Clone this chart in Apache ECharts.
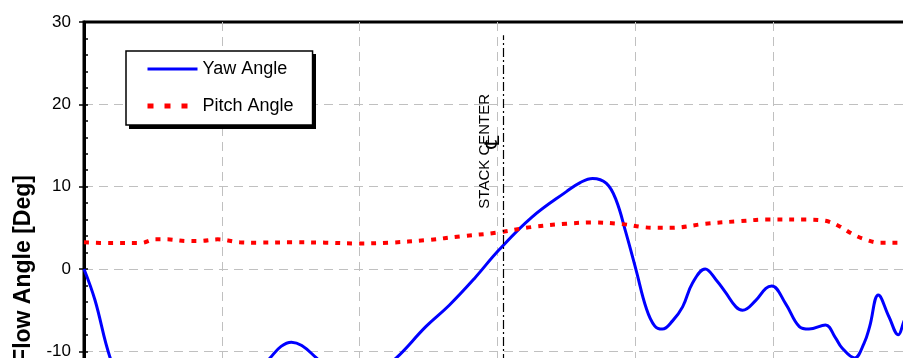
<!DOCTYPE html>
<html>
<head>
<meta charset="utf-8">
<script src="https://cdn.jsdelivr.net/npm/echarts@6/dist/echarts.min.js"></script>
<style>
  html, body { margin: 0; padding: 0; overflow: hidden; background: #fff; }
  #chart { width: 960px; height: 560px; }
</style>
</head>
<body>
<div id="chart"></div>
<script>
// Traverse position (grid units) and flow angles in degrees
const YAW_X = [0.00, 0.08, 0.19, 0.32, 0.50, 0.70, 0.90, 1.10, 1.25, 1.35, 1.43, 1.505, 1.58, 1.686,
  1.82, 1.97, 2.12, 2.266, 2.48, 2.65, 2.83, 3.01, 3.25, 3.50, 3.60, 3.69, 3.79, 3.86, 3.93,
  4.005, 4.08, 4.14, 4.196, 4.27, 4.343, 4.415, 4.507, 4.585, 4.657, 4.73, 4.778, 4.874,
  4.947, 4.99, 5.09, 5.19, 5.26, 5.38, 5.45, 5.50, 5.59, 5.66, 5.70, 5.763, 5.84, 5.908, 5.95, 6.00];
const YAW_V = [0.0, -3.8, -10.8, -15.8, -19.2, -20.3, -19.0, -15.8, -12.6, -10.8, -9.4, -8.9, -9.3, -10.8,
  -12.8, -13.5, -12.6, -10.8, -7.0, -4.4, -1.2, 2.3, 6.3, 9.4, 10.5, 11.0, 10.4, 8.4, 4.5,
  -0.1, -4.8, -6.9, -7.3, -6.3, -4.6, -1.7, 0.0, -1.3, -2.9, -4.6, -5.0, -3.8,
  -2.35, -2.06, -4.2, -7.0, -7.3, -6.8, -8.3, -9.6, -10.8, -9.0, -7.0, -3.15, -5.8, -8.0, -6.3, -4.5];

const PITCH_X = [0.00, 0.19, 0.41, 0.52, 0.60, 0.75, 0.84, 0.97, 1.13, 1.25, 1.52, 1.75, 1.99, 2.22,
  2.48, 2.75, 2.99, 3.25, 3.50, 3.69, 3.91, 4.05, 4.15, 4.26, 4.51, 4.75, 4.95, 5.24, 5.38, 5.48,
  5.57, 5.65, 5.77, 5.93, 6.00];
const PITCH_V = [3.24, 3.15, 3.15, 3.6, 3.6, 3.4, 3.4, 3.6, 3.25, 3.2, 3.24, 3.2, 3.1, 3.2,
  3.5, 4.0, 4.4, 5.1, 5.5, 5.65, 5.45, 5.1, 5.0, 5.0, 5.5, 5.8, 6.0, 6.0, 5.85, 5.2,
  4.3, 3.7, 3.2, 3.2, 3.2];

const SERIES_NAMES = ['Yaw Angle', 'Pitch Angle'];
const STACK_X = 3.043;        // stack centre position
const STACK_TOP = 28.4;       // where the centre line ends
const STACK_LABEL = 'STACK CENTER';
const STACK_LABEL_Y = 14.3;
const CL_SYMBOL = '\u2104';
const CL_SYMBOL_Y = 15.4;

const FONT = '"Liberation Sans", Arial, Helvetica, sans-serif';
const GRID_LINE = { color: '#c0c0c0', width: 1, type: [9, 6] };

const pairs = (xs, vs) => xs.map((x, i) => [x, vs[i]]);

const chart = echarts.init(document.getElementById('chart'), null, { renderer: 'canvas' });

const option = {
  animation: false,
  backgroundColor: '#fff',
  grid: {
    left: 84, top: 22, width: 827, height: 494,
    show: true, borderColor: '#000', borderWidth: 3,
    containLabel: false, outerBoundsMode: 'none'
  },
  legend: {
    left: 126, top: 51, orient: 'vertical',
    padding: [8, 19, 9, 19], itemGap: 17, itemWidth: 50, itemHeight: 20,
    backgroundColor: '#fff', borderColor: '#000', borderWidth: 1.5, borderRadius: 0,
    itemStyle: { opacity: 0 },
    selectedMode: false, z: 6,
    textStyle: { fontSize: 18, color: '#000', fontFamily: FONT, lineHeight: 20 },
    data: [
      { name: SERIES_NAMES[0], lineStyle: { width: 3 } },
      { name: SERIES_NAMES[1], lineStyle: { type: [6, 11], width: 5 } }
    ]
  },
  xAxis: {
    type: 'value', min: 0, max: 6, interval: 1,
    axisLine: { show: false, onZero: false },
    axisTick: { show: false },
    axisLabel: { show: false },
    splitLine: { show: true, showMinLine: false, showMaxLine: false, lineStyle: GRID_LINE }
  },
  yAxis: [
    {
      type: 'value', min: -30, max: 30, interval: 10,
      axisLine: { show: true, onZero: false, lineStyle: { color: '#000', width: 3 } },
      axisTick: { show: true, inside: false, length: 5, lineStyle: { color: '#000', width: 1.5 } },
      axisLabel: { margin: 13, color: '#000', fontSize: 17, fontFamily: FONT },
      splitLine: { show: true, showMinLine: false, showMaxLine: false, lineStyle: GRID_LINE },
      name: 'Flow Angle [Deg]', nameLocation: 'middle', nameGap: 47,
      nameTextStyle: { fontSize: 23, fontWeight: 'bold', color: '#000', fontFamily: FONT }
    },
    {
      type: 'value', min: -30, max: 30, interval: 2, position: 'left',
      axisLine: { show: false, onZero: false },
      axisTick: { show: true, inside: true, length: 4, lineStyle: { color: '#000', width: 1.5 } },
      axisLabel: { show: false },
      splitLine: { show: false }
    }
  ],
  series: [
    {
      name: SERIES_NAMES[0], type: 'line', data: pairs(YAW_X, YAW_V),
      smooth: 0.4, symbol: 'none', z: 3,
      lineStyle: { color: '#0000ff', width: 3 }, itemStyle: { color: '#0000ff' },
      markLine: {
        silent: true, animation: false, symbol: ['none', 'none'],
        label: { show: false },
        lineStyle: { color: '#000', width: 1.2, type: [9, 3, 2, 3] },
        data: [[{ coord: [STACK_X, -30] }, { coord: [STACK_X, STACK_TOP] }]]
      }
    },
    {
      name: SERIES_NAMES[1], type: 'line', data: pairs(PITCH_X, PITCH_V),
      smooth: 0.35, symbol: 'none', z: 4,
      lineStyle: { color: '#ff0000', width: 4, type: [5, 7] }, itemStyle: { color: '#ff0000' }
    }
  ]
};

chart.setOption(option);

// Stack centre annotation placed from data coordinates, plus the legend's drop shadow
const pLabel = chart.convertToPixel({ seriesIndex: 0 }, [STACK_X, STACK_LABEL_Y]);
const pSym = chart.convertToPixel({ seriesIndex: 0 }, [STACK_X, CL_SYMBOL_Y]);
chart.setOption({
  graphic: [
    {
      type: 'rect', left: 129, top: 54, z: 5, silent: true,
      shape: { width: 187, height: 75 },
      style: { fill: '#000' }
    },
    {
      type: 'text', x: pLabel[0] - 19, y: pLabel[1], rotation: Math.PI / 2, z: 10,
      style: { text: STACK_LABEL, font: '15px ' + FONT, fill: '#000',
               align: 'center', verticalAlign: 'middle', textAlign: 'center', textVerticalAlign: 'middle' }
    },
    {
      type: 'text', x: pSym[0] - 10, y: pSym[1], rotation: Math.PI / 2, z: 10,
      style: { text: CL_SYMBOL, font: '20px "DejaVu Sans", sans-serif', fill: '#000',
               align: 'center', verticalAlign: 'middle', textAlign: 'center', textVerticalAlign: 'middle' }
    }
  ]
});
</script>
</body>
</html>
